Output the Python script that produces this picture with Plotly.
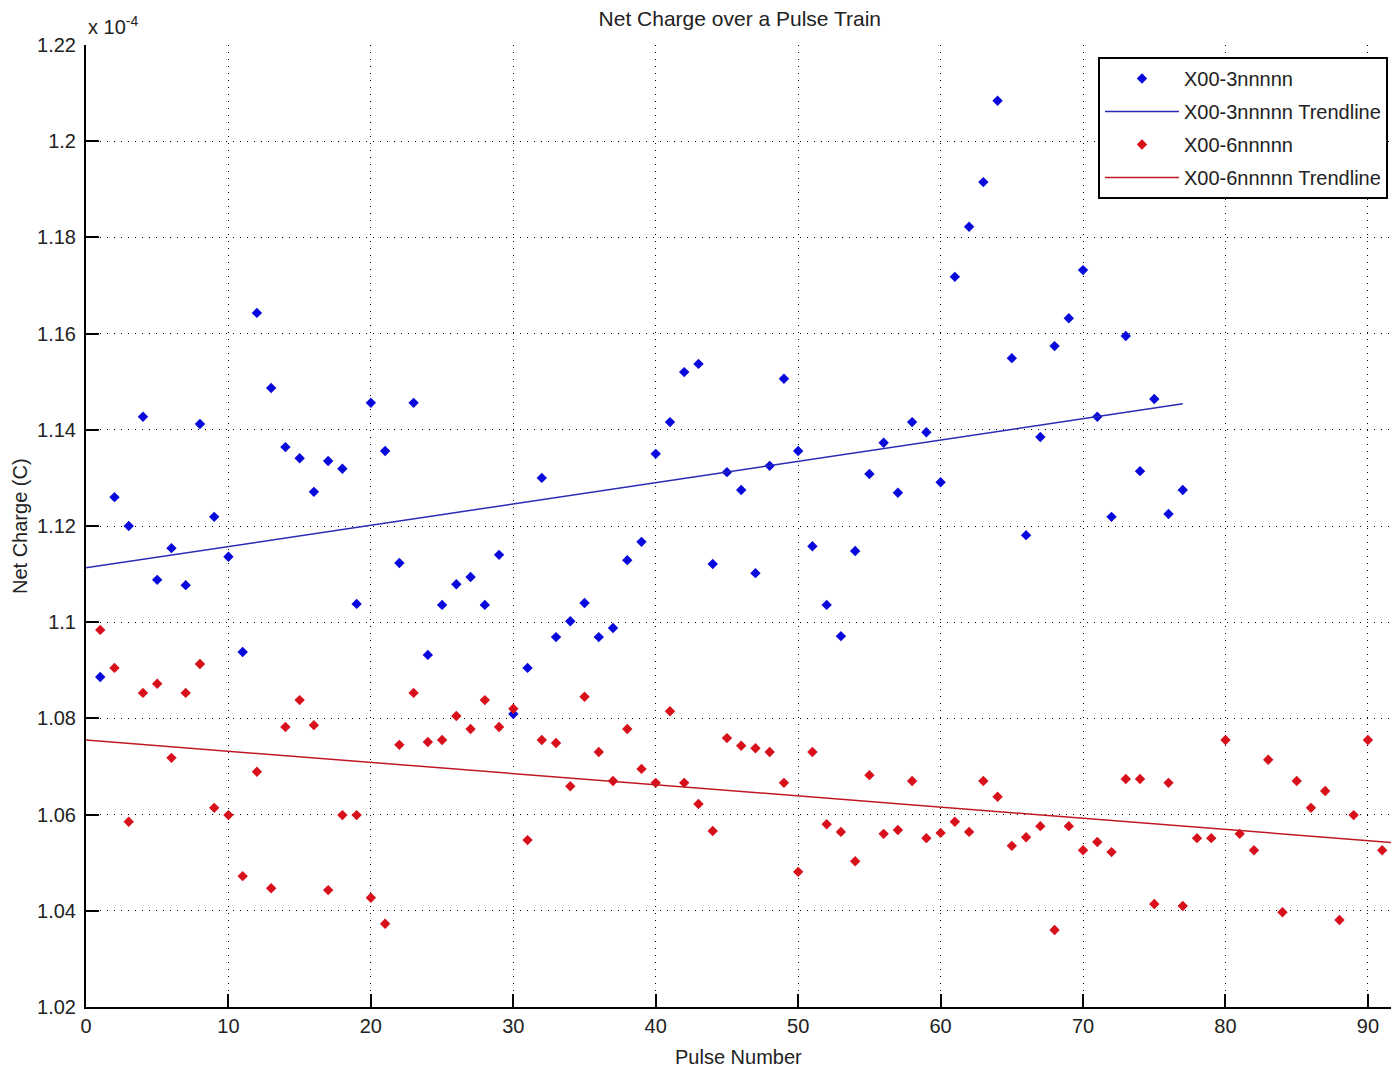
import plotly.graph_objects as go

# Net charge values are in units of 1e-4 C (axis shows "x 10^-4")
pulse_a = list(range(1, 78))
charge_a = [1.0886, 1.1260, 1.1200, 1.1427, 1.1088, 1.1154, 1.1077, 1.1412, 1.1219, 1.1136,
            1.0938, 1.1643, 1.1487, 1.1364, 1.1341, 1.1271, 1.1335, 1.1319, 1.1038, 1.1456,
            1.1356, 1.1123, 1.1456, 1.0932, 1.1036, 1.1079, 1.1094, 1.1036, 1.1140, 1.0809,
            1.0905, 1.1300, 1.0969, 1.1002, 1.1040, 1.0969, 1.0988, 1.1129, 1.1167, 1.1350,
            1.1416, 1.1520, 1.1537, 1.1121, 1.1312, 1.1275, 1.1102, 1.1325, 1.1506, 1.1356,
            1.1158, 1.1036, 1.0971, 1.1148, 1.1308, 1.1373, 1.1269, 1.1416, 1.1395, 1.1291,
            1.1718, 1.1822, 1.1915, 1.2084, 1.1549, 1.1181, 1.1385, 1.1574, 1.1632, 1.1732,
            1.1427, 1.1219, 1.1595, 1.1314, 1.1464, 1.1225, 1.1275]

pulse_b = list(range(1, 93))
charge_b = [1.0984, 1.0905, 1.0585, 1.0853, 1.0872, 1.0718, 1.0853, 1.0913, 1.0614, 1.0599,
            1.0472, 1.0689, 1.0447, 1.0782, 1.0838, 1.0786, 1.0443, 1.0599, 1.0599, 1.0427,
            1.0373, 1.0745, 1.0853, 1.0751, 1.0755, 1.0805, 1.0778, 1.0838, 1.0782, 1.0820,
            1.0547, 1.0755, 1.0749, 1.0659, 1.0845, 1.0730, 1.0670, 1.0778, 1.0695, 1.0666,
            1.0815, 1.0666, 1.0622, 1.0566, 1.0759, 1.0743, 1.0738, 1.0730, 1.0666, 1.0481,
            1.0730, 1.0580, 1.0564, 1.0503, 1.0682, 1.0560, 1.0568, 1.0670, 1.0551, 1.0562,
            1.0585, 1.0564, 1.0670, 1.0637, 1.0535, 1.0553, 1.0576, 1.0360, 1.0576, 1.0526,
            1.0543, 1.0522, 1.0674, 1.0674, 1.0414, 1.0666, 1.0410, 1.0551, 1.0551, 1.0755,
            1.0560, 1.0526, 1.0714, 1.0397, 1.0670, 1.0614, 1.0649, 1.0381, 1.0599, 1.0755,
            1.0526, 1.0468]

# trendline endpoints
trend_a_x = [0, 77]
trend_a_y = [1.1113, 1.1454]
trend_b_x = [0, 93]
trend_b_y = [1.0755, 1.0539]

y_ticks = [1.02, 1.04, 1.06, 1.08, 1.10, 1.12, 1.14, 1.16, 1.18, 1.20, 1.22]
y_labels = ["1.02", "1.04", "1.06", "1.08", "1.1", "1.12", "1.14", "1.16", "1.18", "1.2", "1.22"]
x_ticks = [0, 10, 20, 30, 40, 50, 60, 70, 80, 90]

BLUE = "#0808dc"
RED = "#d8101c"
FONT = "Liberation Sans"
TXT = "#222222"

fig = go.Figure()

fig.add_trace(go.Scatter(x=pulse_a, y=charge_a, mode='markers', name='X00-3nnnnn',
                         legendgroup='a', marker=dict(symbol='diamond', size=8, color=BLUE)))
fig.add_trace(go.Scatter(x=trend_a_x, y=trend_a_y, mode='lines', name='X00-3nnnnn Trendline',
                         legendgroup='b', line=dict(color="#2a2ab8", width=1.5)))
fig.add_trace(go.Scatter(x=pulse_b, y=charge_b, mode='markers', name='X00-6nnnnn',
                         legendgroup='c', marker=dict(symbol='diamond', size=8, color=RED)))
fig.add_trace(go.Scatter(x=trend_b_x, y=trend_b_y, mode='lines', name='X00-6nnnnn Trendline',
                         legendgroup='d', line=dict(color="#c01820", width=1.5)))

axis_common = dict(
    showgrid=True, gridcolor='black', gridwidth=1, griddash='1px,6px',
    showline=True, linecolor='black', linewidth=2,
    ticks='inside', tickcolor='black', tickwidth=2, ticklen=13,
    tickfont=dict(family=FONT, size=20, color=TXT),
    zeroline=False, mirror=False, automargin=False,
)

fig.update_xaxes(range=[0, 91.62], tickvals=x_ticks, **axis_common)
fig.update_yaxes(range=[1.02, 1.22], tickvals=y_ticks, ticktext=y_labels, ticklabelstandoff=4,
                 **axis_common)

# axis titles and exponent label
fig.add_annotation(x=0.5, y=0, xref='paper', yref='paper', yshift=-50, yanchor='middle',
                   text='Pulse Number', showarrow=False,
                   font=dict(family=FONT, size=20, color=TXT))
fig.add_annotation(x=0, y=0.5, xref='paper', yref='paper', xshift=-66, xanchor='center',
                   text='Net Charge (C)', textangle=-90, showarrow=False,
                   font=dict(family=FONT, size=20, color=TXT))
fig.add_annotation(x=0, y=1.22, xref='x', yref='y', xanchor='left', yanchor='bottom', yshift=5,
                   text='x 10<sup>-4</sup>', showarrow=False,
                   font=dict(family=FONT, size=20, color=TXT))

# page body has an 8px margin, so the figure is sized to fit inside the window
fig.update_layout(
    width=1383, height=1063,
    margin=dict(l=78, r=0, t=37, b=64),
    paper_bgcolor='white', plot_bgcolor='white',
    title=dict(text='Net Charge over a Pulse Train', xref='paper', x=0.501, xanchor='center',
               y=0.99, yanchor='middle',
               font=dict(family=FONT, size=21, color=TXT)),
    showlegend=True,
    legend=dict(x=0.9977, y=0.9875, xanchor='right', yanchor='top',
                bgcolor='white', bordercolor='black', borderwidth=2,
                font=dict(family=FONT, size=20, color=TXT),
                tracegroupgap=4, itemwidth=74),
)

fig.write_html("out.html")
